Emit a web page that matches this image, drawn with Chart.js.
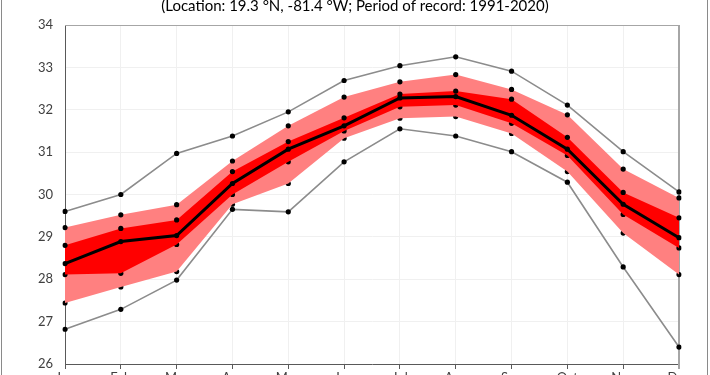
<!DOCTYPE html>
<html>
<head>
<meta charset="utf-8">
<script src="https://cdn.jsdelivr.net/npm/chart.js@4/dist/chart.umd.min.js"></script>
<style>
  html, body { margin: 0; padding: 0; background: #fff; overflow: hidden; width: 710px; height: 375px; }
  #wrap { position: absolute; left: 0; top: -20px; width: 710px; height: 420px; }
</style>
</head>
<body>
<div id="wrap"><canvas id="c" width="710" height="420"></canvas></div>
<script>
const months = ['Jan','Feb','Mar','Apr','May','Jun','Jul','Aug','Sep','Oct','Nov','Dec'];
const maxT = [29.60, 30.00, 30.97, 31.38, 31.95, 32.69, 33.04, 33.25, 32.91, 32.11, 31.01, 30.06];
const p90  = [29.22, 29.52, 29.76, 30.79, 31.62, 32.30, 32.66, 32.83, 32.48, 31.88, 30.60, 29.92];
const p75  = [28.80, 29.20, 29.40, 30.54, 31.25, 31.81, 32.37, 32.44, 32.25, 31.35, 30.05, 29.45];
const meanT= [28.37, 28.89, 29.03, 30.26, 31.07, 31.62, 32.28, 32.31, 31.87, 31.07, 29.77, 28.98];
const p25  = [28.11, 28.14, 28.82, 30.00, 30.77, 31.50, 32.07, 32.11, 31.68, 30.92, 29.53, 28.74];
const p10  = [27.44, 27.82, 28.18, 29.77, 30.26, 31.33, 31.80, 31.84, 31.44, 30.54, 29.09, 28.11];
const minT = [26.82, 27.29, 27.98, 29.65, 29.59, 30.77, 31.55, 31.38, 31.01, 30.29, 28.29, 26.40];
const subtitle = '(Location: 19.3 °N, -81.4 °W; Period of record: 1991-2020)';

const FONT = 'Lato';
const pt = { pointRadius: 2.6, pointHoverRadius: 2.6, pointBackgroundColor: '#000', pointBorderColor: '#000', pointBorderWidth: 0, tension: 0 };
const band = (data, fill, bg) => Object.assign({ data, fill, backgroundColor: bg, borderColor: 'rgba(0,0,0,0)', borderWidth: 0 }, pt);

const framePlugin = {
  id: 'frame',
  beforeDraw(chart) {
    const ctx = chart.ctx;
    ctx.save();
    ctx.fillStyle = '#fff';
    ctx.fillRect(0, 0, chart.width, chart.height);
    ctx.strokeStyle = '#8a8a8a';
    ctx.lineWidth = 1;
    ctx.strokeRect(1.5, 1.5, 706, chart.height - 3);
    ctx.fillStyle = '#000';
    ctx.font = '15px ' + FONT;
    ctx.textAlign = 'center';
    ctx.textBaseline = 'alphabetic';
    ctx.fillText(subtitle, 355, 30.5);
    ctx.restore();
  },
  beforeDatasetsDraw(chart) {
    const { ctx, chartArea: a } = chart;
    ctx.save();
    ctx.strokeStyle = '#a6a6a6';
    ctx.lineWidth = 1;
    ctx.beginPath();
    ctx.moveTo(a.left, a.top + 0.5);
    ctx.lineTo(a.right, a.top + 0.5);
    ctx.stroke();
    ctx.lineWidth = 2;
    ctx.beginPath();
    ctx.moveTo(a.right, a.top);
    ctx.lineTo(a.right, a.bottom + 5);
    ctx.stroke();
    ctx.restore();
  }
};

new Chart(document.getElementById('c'), {
  type: 'line',
  data: {
    labels: months,
    datasets: [
      Object.assign({ label: 'Mean', data: meanT, borderColor: '#000', borderWidth: 3, fill: false }, pt),
      Object.assign({ label: 'Max', data: maxT, borderColor: '#8c8c8c', borderWidth: 1.6, fill: false }, pt),
      Object.assign({ label: 'Min', data: minT, borderColor: '#8c8c8c', borderWidth: 1.6, fill: false }, pt),
      Object.assign({ label: 'P75' }, band(p75, '+1', '#ff0000')),
      Object.assign({ label: 'P25' }, band(p25, false, 'rgba(0,0,0,0)')),
      Object.assign({ label: 'P90' }, band(p90, '+1', '#ff8080')),
      Object.assign({ label: 'P10' }, band(p10, false, 'rgba(0,0,0,0)'))
    ]
  },
  options: {
    responsive: false,
    animation: false,
    devicePixelRatio: 1,
    layout: { padding: { top: 45, left: 0, right: 31, bottom: 0 } },
    plugins: { legend: { display: false }, title: { display: false }, tooltip: { enabled: false },
      filler: { drawTime: 'beforeDatasetDraw' } },
    scales: {
      x: {
        offset: false,
        grid: { color: '#f0f0f0', tickColor: '#595959', tickLength: 5, drawOnChartArea: true },
        border: { color: '#595959', width: 1 },
        ticks: { color: '#404040', font: { family: FONT, size: 13 }, padding: 1, maxRotation: 0, autoSkip: false },
        afterFit(s) { s.height = 36; }
      },
      y: {
        min: 26, max: 34,
        grid: { color: '#f0f0f0', drawTicks: false },
        border: { color: '#595959', width: 1 },
        ticks: { stepSize: 1, color: '#404040', font: { family: FONT, size: 13 }, padding: 12 },
        afterFit(s) { s.width = 65; }
      }
    }
  },
  plugins: [framePlugin]
});
</script>
</body>
</html>
